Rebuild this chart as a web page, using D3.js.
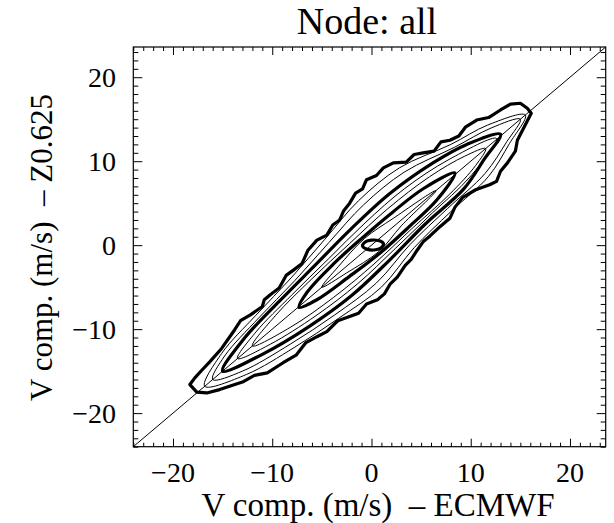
<!DOCTYPE html>
<html><head><meta charset="utf-8">
<script src="https://cdn.jsdelivr.net/npm/d3@7"></script>
<style>body{margin:0;background:#fff}svg{display:block}text{font-family:"Liberation Serif","Times New Roman",serif;fill:#000}</style>
</head><body><svg id="c" width="614" height="523"></svg>
<script>
const title = "Node: all";
const xLabel = "V comp. (m/s)  \u2013 ECMWF";
const yLabel = "V comp. (m/s)  \u2013 Z0.625";
const domain = [-24, 23.6];
const majorTicks = [-20, -10, 0, 10, 20];
const minorTicks = d3.range(-24, 24, 1);
const tickLabels = ["\u221220", "\u221210", "0", "10", "20"];

// contour polygons [x, y], outer to inner
const c1 = [[-18.3,-16.6],[-17.8,-15.8],[-17.1,-14.9],[-16.3,-13.9],[-15.1,-12.3],[-13.8,-10.1],[-13.2,-9.0],[-12.2,-8.3],[-11.0,-7.3],[-10.8,-6.5],[-10.2,-5.9],[-9.3,-5.1],[-8.6,-3.6],[-7.9,-3.0],[-7.0,-2.2],[-6.4,-0.6],[-5.5,0.6],[-4.5,1.2],[-3.9,2.4],[-3.2,3.0],[-2.8,4.1],[-2.2,5.0],[-1.6,6.2],[-0.9,6.7],[-0.5,7.8],[0.5,8.3],[1.2,9.2],[2.2,9.8],[3.5,9.9],[4.3,10.8],[5.2,11.0],[6.3,11.2],[7.0,12.3],[7.9,12.5],[8.8,13.0],[9.5,14.1],[10.6,14.9],[11.8,15.2],[13.0,16.1],[14.0,16.8],[15.0,16.9],[15.7,16.3],[16.1,15.7],[14.7,12.5],[14.5,11.2],[13.7,9.8],[13.0,8.8],[12.6,7.6],[11.9,7.2],[10.5,6.6],[9.2,5.7],[8.4,4.5],[7.9,3.2],[6.9,2.2],[5.9,1.1],[5.2,0.4],[4.6,-0.6],[4.0,-1.7],[3.4,-2.4],[2.6,-3.8],[1.9,-4.6],[1.3,-5.8],[0.6,-6.5],[-0.5,-7.0],[-1.3,-8.1],[-2.2,-8.5],[-3.4,-9.0],[-4.5,-10.3],[-5.5,-10.9],[-6.6,-11.6],[-7.6,-13.1],[-8.9,-14.0],[-10.5,-15.2],[-11.8,-15.5],[-13.0,-16.3],[-15.3,-17.2],[-16.6,-17.6],[-17.6,-17.5]];
const c2 = [[-16.8,-16.8],[-15.1,-12.9],[-11.65,-8.35],[-8.1,-3.9],[-4.7,0.7],[-1.3,5.3],[2.8,9.2],[8,12],[11.7,14.3],[15.5,15.5],[13.9,12.1],[11.8,8.2],[8,4],[4.3,-0.3],[1,-5],[-3.3,-8.7],[-7.8,-12.2],[-12.6,-15.4]];
const c3 = [[-16,-16],[-14.8,-13.2],[-11.35,-8.65],[-7.75,-4.25],[-4.3,0.3],[-0.8,4.8],[3.3,8.7],[8.35,11.65],[12.05,13.95],[15,15],[13.65,12.35],[11.45,8.55],[7.65,4.35],[3.9,0.1],[0.5,-4.5],[-3.7,-8.3],[-8.2,-11.8],[-13,-15]];
const c4 = [[-15,-15],[-12.85,-11.15],[-9.3,-6.7],[-5.65,-2.35],[-2,2],[1.85,6.15],[6.2,9.8],[9.6,12.0],[13.0,13.2],[11.4,10.3],[9.3,6.7],[5.45,2.55],[1.8,-1.8],[-2,-6],[-6.3,-9.7],[-11,-13]];
const c5 = [[-13.5,-13.5],[-11.65,-10.35],[-8.05,-5.95],[-4.35,-1.65],[-0.65,2.65],[3.3,6.7],[7.8,10.2],[12.6,12.7],[9.9,8.1],[6.15,3.85],[2.4,-0.4],[-1.4,-4.6],[-5.6,-8.4],[-10.2,-11.8]];
const c6 = [[-12,-12],[-9.65,-8.35],[-6,-4],[-2.2,0.2],[1.65,4.35],[5.85,8.15],[9.4,10.6],[11.5,11.5],[10.5,9.5],[7.9,6.1],[4.05,1.95],[0.25,-2.25],[-3.8,-6.2],[-8.2,-9.8]];
const c7 = [[-7.3,-7.4],[-6.45,-5.55],[-3.8,-2.2],[-0.9,0.9],[2.1,3.9],[5.25,6.75],[8.4,8.6],[6.6,5.4],[3.8,2.2],[0.9,-0.9],[-2.25,-3.75],[-5.5,-6.5]];
const c8 = [[-5,-5],[-3.3,-2.5],[-0.7,0.8],[2.2,3.2],[6.5,6.5],[3.0,2.3],[0.8,-0.7],[-2.5,-3.3]];
const c9 = [[-0.9,-0.1],[-0.6,0.4],[0.0,0.6],[0.7,0.55],[1.2,0.2],[1.0,-0.3],[0.4,-0.55],[-0.4,-0.5]];
const contours = [
  {pts: c1, thick: true, jag: true},
  {pts: c2, thick: false},
  {pts: c3, thick: false},
  {pts: c4, thick: true},
  {pts: c5, thick: false},
  {pts: c6, thick: false},
  {pts: c7, thick: true},
  {pts: c8, thick: false},
  {pts: c9, thick: true}
];

const svg = d3.select("#c");
const L = 133.3, R = 605.7, T = 47, B = 446.7;
const x = d3.scaleLinear().domain(domain).range([L, R]);
const y = d3.scaleLinear().domain(domain).range([B, T]);

const g = svg.append("g");
const line = d3.line().x(d => x(d[0])).y(d => y(d[1]));
contours.forEach(c => {
  g.append("path")
    .attr("d", line.curve(c.jag ? d3.curveLinearClosed : d3.curveCatmullRomClosed.alpha(0.5))(c.pts))
    .attr("fill", "none").attr("stroke", "#000")
    .attr("stroke-width", c.thick ? 3.2 : 1)
    .attr("stroke-linejoin", "round");
});
g.append("line").attr("x1", x(domain[0])).attr("y1", y(domain[0]))
  .attr("x2", x(domain[1])).attr("y2", y(domain[1]))
  .attr("stroke", "#000").attr("stroke-width", 1);

svg.append("rect").attr("x", L).attr("y", T).attr("width", R - L).attr("height", B - T)
  .attr("fill", "none").attr("stroke", "#000").attr("stroke-width", 1.2);

function addAxis(axisGen, tr) {
  const a = svg.append("g").attr("transform", tr).call(axisGen);
  a.select(".domain").remove();
  a.selectAll("text").remove();
  a.selectAll("line").attr("stroke", "#000");
}
const minorOnly = minorTicks.filter(v => !majorTicks.includes(v));
addAxis(d3.axisBottom(x).tickValues(minorOnly).tickSizeInner(-4).tickSizeOuter(0), `translate(0,${B})`);
addAxis(d3.axisBottom(x).tickValues(majorTicks).tickSizeInner(-8).tickSizeOuter(0), `translate(0,${B})`);
addAxis(d3.axisTop(x).tickValues(minorOnly).tickSizeInner(-4).tickSizeOuter(0), `translate(0,${T})`);
addAxis(d3.axisTop(x).tickValues(majorTicks).tickSizeInner(-8).tickSizeOuter(0), `translate(0,${T})`);
addAxis(d3.axisLeft(y).tickValues(minorOnly).tickSizeInner(-5).tickSizeOuter(0), `translate(${L},0)`);
addAxis(d3.axisLeft(y).tickValues(majorTicks).tickSizeInner(-9).tickSizeOuter(0), `translate(${L},0)`);
addAxis(d3.axisRight(y).tickValues(minorOnly).tickSizeInner(-5).tickSizeOuter(0), `translate(${R},0)`);
addAxis(d3.axisRight(y).tickValues(majorTicks).tickSizeInner(-9).tickSizeOuter(0), `translate(${R},0)`);

majorTicks.forEach((v, i) => {
  svg.append("text").attr("x", x(v)).attr("y", 482).attr("text-anchor", "middle")
    .attr("font-size", 28).text(tickLabels[i]);
  svg.append("text").attr("x", 116).attr("y", y(v) + 10).attr("text-anchor", "end")
    .attr("font-size", 28).text(tickLabels[i]);
});
svg.append("text").attr("x", 367).attr("y", 34).attr("text-anchor", "middle")
  .attr("font-size", 38).text(title);
svg.append("text").attr("x", 378).attr("y", 516).attr("text-anchor", "middle")
  .attr("font-size", 33).style("white-space", "pre").text(xLabel);
svg.append("text").attr("transform", "translate(52,247.5) rotate(-90)").attr("text-anchor", "middle")
  .attr("font-size", 31).style("white-space", "pre").text(yLabel);
</script></body></html>
